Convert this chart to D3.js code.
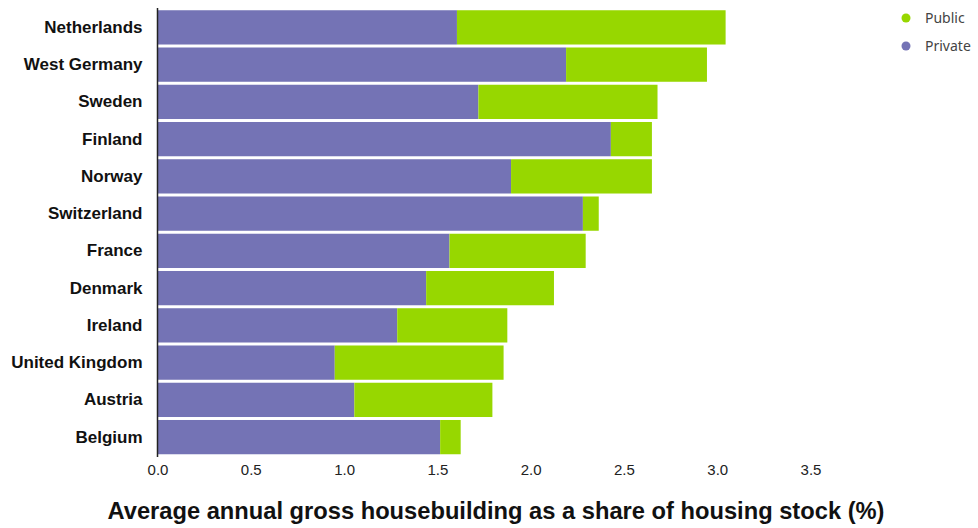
<!DOCTYPE html>
<html><head><meta charset="utf-8">
<script src="https://cdn.jsdelivr.net/npm/d3@7"></script>
<style>body{margin:0;background:#fff}</style>
</head><body>
<svg id="c" width="978" height="528"></svg>
<script>
const countries = ["Netherlands","West Germany","Sweden","Finland","Norway","Switzerland","France","Denmark","Ireland","United Kingdom","Austria","Belgium"];
const privateVals = [1.605, 2.19, 1.72, 2.43, 1.895, 2.28, 1.565, 1.44, 1.285, 0.95, 1.055, 1.515];
const publicVals  = [1.44, 0.755, 0.96, 0.22, 0.755, 0.085, 0.73, 0.685, 0.59, 0.905, 0.74, 0.11];
const xTicks = [0, 0.5, 1, 1.5, 2, 2.5, 3, 3.5];
const seriesNames = ["Public","Private"];
const colors = {Public:"#97d700", Private:"#7473b5"};
const xTitle = "Average annual gross housebuilding as a share of housing stock (%)";

const svg = d3.select("#c");
const x = d3.scaleLinear().domain([0,3.5]).range([157.5,810.5]);
const y = d3.scaleBand().domain(countries).range([9.5,455]).paddingInner(0.08).paddingOuter(0.02);

const data = countries.map((c,i)=>({c, priv:privateVals[i], pub:publicVals[i]}));

svg.append("g").selectAll("rect.p").data(data).join("rect")
  .attr("x", x(0)).attr("y", d=>y(d.c)).attr("height", y.bandwidth())
  .attr("width", d=>x(d.priv)-x(0)).attr("fill", colors.Private);
svg.append("g").selectAll("rect.q").data(data).join("rect")
  .attr("x", d=>x(d.priv)).attr("y", d=>y(d.c)).attr("height", y.bandwidth())
  .attr("width", d=>x(d.priv+d.pub)-x(d.priv)).attr("fill", colors.Public);

// y axis
const ya = svg.append("g").attr("transform",`translate(${x(0)},0)`)
  .call(d3.axisLeft(y).tickSize(0).tickPadding(15));
ya.select(".domain").attr("stroke","#222").attr("stroke-width",1.5).attr("d","M0,8V457");
ya.selectAll("text").attr("font-family","Liberation Sans, Arial, sans-serif")
  .attr("font-size","17px").attr("font-weight","bold").attr("fill","#111");

// x axis
const xa = svg.append("g").attr("transform","translate(0,457)")
  .call(d3.axisBottom(x).tickValues(xTicks).tickFormat(d3.format(".1f")).tickSize(0).tickPadding(7));
xa.select(".domain").remove();
xa.selectAll("text").attr("font-family","Liberation Sans, Arial, sans-serif")
  .attr("font-size","15px").attr("fill","#222");

svg.append("text").attr("x",496).attr("y",519).attr("text-anchor","middle")
  .attr("font-family","Liberation Sans, Arial, sans-serif").attr("font-weight","bold")
  .attr("font-size","23.7px").attr("fill","#111").text(xTitle);

// legend
const lg = svg.append("g").selectAll("g").data(seriesNames).join("g")
  .attr("transform",(d,i)=>`translate(906,${18+i*28})`);
lg.append("circle").attr("r",4.5).attr("fill",d=>colors[d]);
lg.append("text").attr("x",19).attr("dy","0.35em")
  .attr("font-family","Noto Sans, sans-serif").attr("font-size","14px").attr("fill","#444").text(d=>d);
</script>
</body></html>
